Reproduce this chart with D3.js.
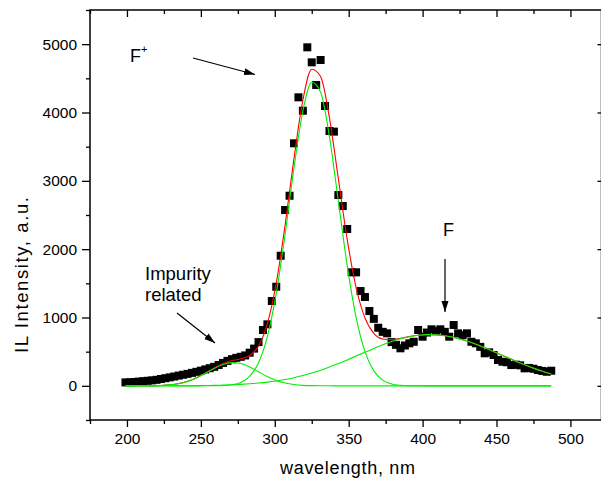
<!DOCTYPE html>
<html><head><meta charset="utf-8">
<script src="https://cdn.jsdelivr.net/npm/d3@7/dist/d3.min.js"></script>
<style>
html,body{margin:0;padding:0;background:#fff;}
svg text{font-family:Arial,"Liberation Sans",sans-serif;fill:#000;}
</style></head><body>
<svg id="chart" width="601" height="478"></svg>
<script>
// measured data points (wavelength nm, IL intensity a.u.)
const wavelength = [199,202,205,208,211,214,217,220,223,226,229,232,235,238,241,244,247,250,253,256,259,262,265,268,271,274,277,280,283,286,289,292,295,298,301,304,307,310,313,316,319,322,325,328,331,334,337,340,343,346,349,352,355,358,361,364,367,370,373,376,379,382,385,388,391,394,397,400,403,406,409,412,415,418,421,424,427,430,433,436,439,442,445,448,451,454,457,460,463,466,469,472,475,478,481,484,487];
const intensity = [50,52,56,62,68,74,80,88,100,112,124,136,150,162,175,190,205,222,240,258,278,305,335,365,390,410,425,445,485,545,640,817,900,1241,1450,1904,2573,2782,3549,4222,4026,4954,4734,4402,4768,4095,3729,3720,2792,2631,2295,1661,1661,1387,1300,1095,980,850,790,768,640,600,549,590,622,645,817,719,780,827,800,827,790,719,890,768,740,768,645,622,570,476,490,451,378,353,345,304,310,300,256,262,250,231,218,206,221];

// fitted curves
const fitX = [199,205,211,217,223,229,235,241,247,253,259,265,271,277,283,289,295,301,307,313,319,325,331,337,343,349,355,361,367,373,379,385,391,397,403,409,415,421,427,433,439,445,451,457,463,469,475,481,487];
const fitImpurity = [0,0.1,0.5,1.8,5.3,13.9,31.8,64.5,115,182,254,312,339,326,276,206,136,79,41,18.6,7.4,2.6,0.8,0.2,0,0,0,0,0,0,0,0,0,0,0,0,0,0,0,0,0,0,0,0,0,0,0,0,0];
const fitFplus = [0,0,0,0,0,0,0,0,0,0.2,1.0,4.3,15.6,49.5,138,337,721,1352,2219,3191,4022,4442,4297,3642,2705,1760,1003,501,219,84,28,8.3,2.1,0.5,0,0,0,0,0,0,0,0,0,0,0,0,0,0,0];
const fitF = [0,0.1,0.2,0.4,0.6,0.9,1.4,2.2,3.3,5.0,7.4,10.7,15.2,21.4,29.7,40.4,54.3,71.7,93.3,119.5,150.7,187,228.6,275,325.6,379.7,436,492.8,548,600.5,647.7,687.7,718.8,739.7,749.3,747.4,733.9,709.5,675.2,632.7,583.6,530,473.9,417,361.4,308.3,259,214,174.3];
const fitSum = [0,0.3,0.7,2.2,5.9,14.8,33.2,66.7,118,187,262,327,370,397,444,583,911,1503,2353,3329,4180,4632,4526,3917,3031,2140,1439,994,767,685,676,696,721,740,749,747,734,710,675,633,584,530,474,417,361,308,259,214,174];

const xMajor = [200,250,300,350,400,450,500];
const xMinor = [175,225,275,325,375,425,475,525];
const yMajor = [0,1000,2000,3000,4000,5000];
const yMinor = [-500,500,1500,2500,3500,4500,5500];

const svg = d3.select("#chart");
const L = 90, R = 600, T = 10, B = 420;
const x = d3.scaleLinear().domain([175,520]).range([L,R]);
const y = d3.scaleLinear().domain([-500,5500]).range([B,T]);

svg.append("defs").append("marker")
  .attr("id","ah").attr("markerUnits","userSpaceOnUse")
  .attr("markerWidth",12).attr("markerHeight",8)
  .attr("refX",11).attr("refY",3.5).attr("orient","auto")
  .append("path").attr("d","M0,0 L11,3.5 L0,7 Z").attr("fill","#000");

// data squares
const sq = 8;
svg.append("g").selectAll("rect").data(wavelength).join("rect")
  .attr("x",(d)=>x(d)-sq/2).attr("y",(d,i)=>y(intensity[i])-sq/2)
  .attr("width",sq).attr("height",sq).attr("fill","#000");

const line = (arr)=>d3.line().x((d,i)=>x(fitX[i])).y((d)=>y(d)).curve(d3.curveMonotoneX)(arr);
svg.append("path").attr("d",line(fitSum)).attr("fill","none").attr("stroke","#ff0000").attr("stroke-width",1.1);
[fitImpurity,fitFplus,fitF].forEach(a=>{
  svg.append("path").attr("d",line(a)).attr("fill","none").attr("stroke","#00ee00").attr("stroke-width",1.1);
});

// axes
const fs = "15.5px";
function styleAxis(g){ g.select(".domain").remove(); g.selectAll("line").attr("stroke","#000").attr("stroke-width",1.3); g.selectAll("text").style("font-size",fs).attr("fill","#000"); }
svg.append("g").attr("transform",`translate(0,${B})`).call(d3.axisBottom(x).tickValues(xMajor).tickSize(7).tickPadding(6).tickFormat(d3.format("d"))).call(styleAxis);
svg.append("g").attr("transform",`translate(0,${B})`).call(d3.axisBottom(x).tickValues(xMinor).tickSize(4).tickFormat("")).call(styleAxis);
svg.append("g").attr("transform",`translate(0,${T})`).call(d3.axisBottom(x).tickValues(xMajor).tickSize(7).tickFormat("")).call(styleAxis);
svg.append("g").attr("transform",`translate(0,${T})`).call(d3.axisBottom(x).tickValues(xMinor).tickSize(4).tickFormat("")).call(styleAxis);
svg.append("g").attr("transform",`translate(${L},0)`).call(d3.axisLeft(y).tickValues(yMajor).tickSize(8).tickPadding(5).tickFormat(d3.format("d"))).call(styleAxis);
svg.append("g").attr("transform",`translate(${L},0)`).call(d3.axisLeft(y).tickValues(yMinor).tickSize(4).tickFormat("")).call(styleAxis);
svg.append("g").attr("transform",`translate(601.5,0)`).call(d3.axisLeft(y).tickValues(yMajor).tickSize(4).tickFormat("")).call(styleAxis);

svg.append("rect").attr("x",L).attr("y",T).attr("width",601.5-L).attr("height",B-T)
  .attr("fill","none").attr("stroke","#000").attr("stroke-width",1.5);

// titles
svg.append("text").attr("x",347.5).attr("y",474).attr("text-anchor","middle").style("font-size","18px")
  .attr("textLength",135).attr("lengthAdjust","spacing").text("wavelength, nm");
svg.append("text").attr("transform","translate(28,275) rotate(-90)").attr("text-anchor","middle").style("font-size","18.5px")
  .attr("textLength",156).attr("lengthAdjust","spacing").text("IL Intensity, a.u.");

// annotations
const fp = svg.append("text").attr("x",130).attr("y",62).style("font-size","18px");
fp.append("tspan").text("F");
fp.append("tspan").attr("dy",-9).style("font-size","11px").text("+");
svg.append("line").attr("x1",193).attr("y1",58).attr("x2",255).attr("y2",74.5).attr("stroke","#000").attr("stroke-width",1.2).attr("marker-end","url(#ah)");
svg.append("text").attr("x",443).attr("y",236).style("font-size","18px").text("F");
svg.append("line").attr("x1",445).attr("y1",259).attr("x2",445).attr("y2",312).attr("stroke","#000").attr("stroke-width",1.2).attr("marker-end","url(#ah)");
svg.append("text").attr("x",145).attr("y",280).style("font-size","18.5px").text("Impurity");
svg.append("text").attr("x",145).attr("y",301).style("font-size","18.5px").text("related");
svg.append("line").attr("x1",177).attr("y1",313).attr("x2",215).attr("y2",343).attr("stroke","#000").attr("stroke-width",1.2).attr("marker-end","url(#ah)");
</script>
</body></html>
